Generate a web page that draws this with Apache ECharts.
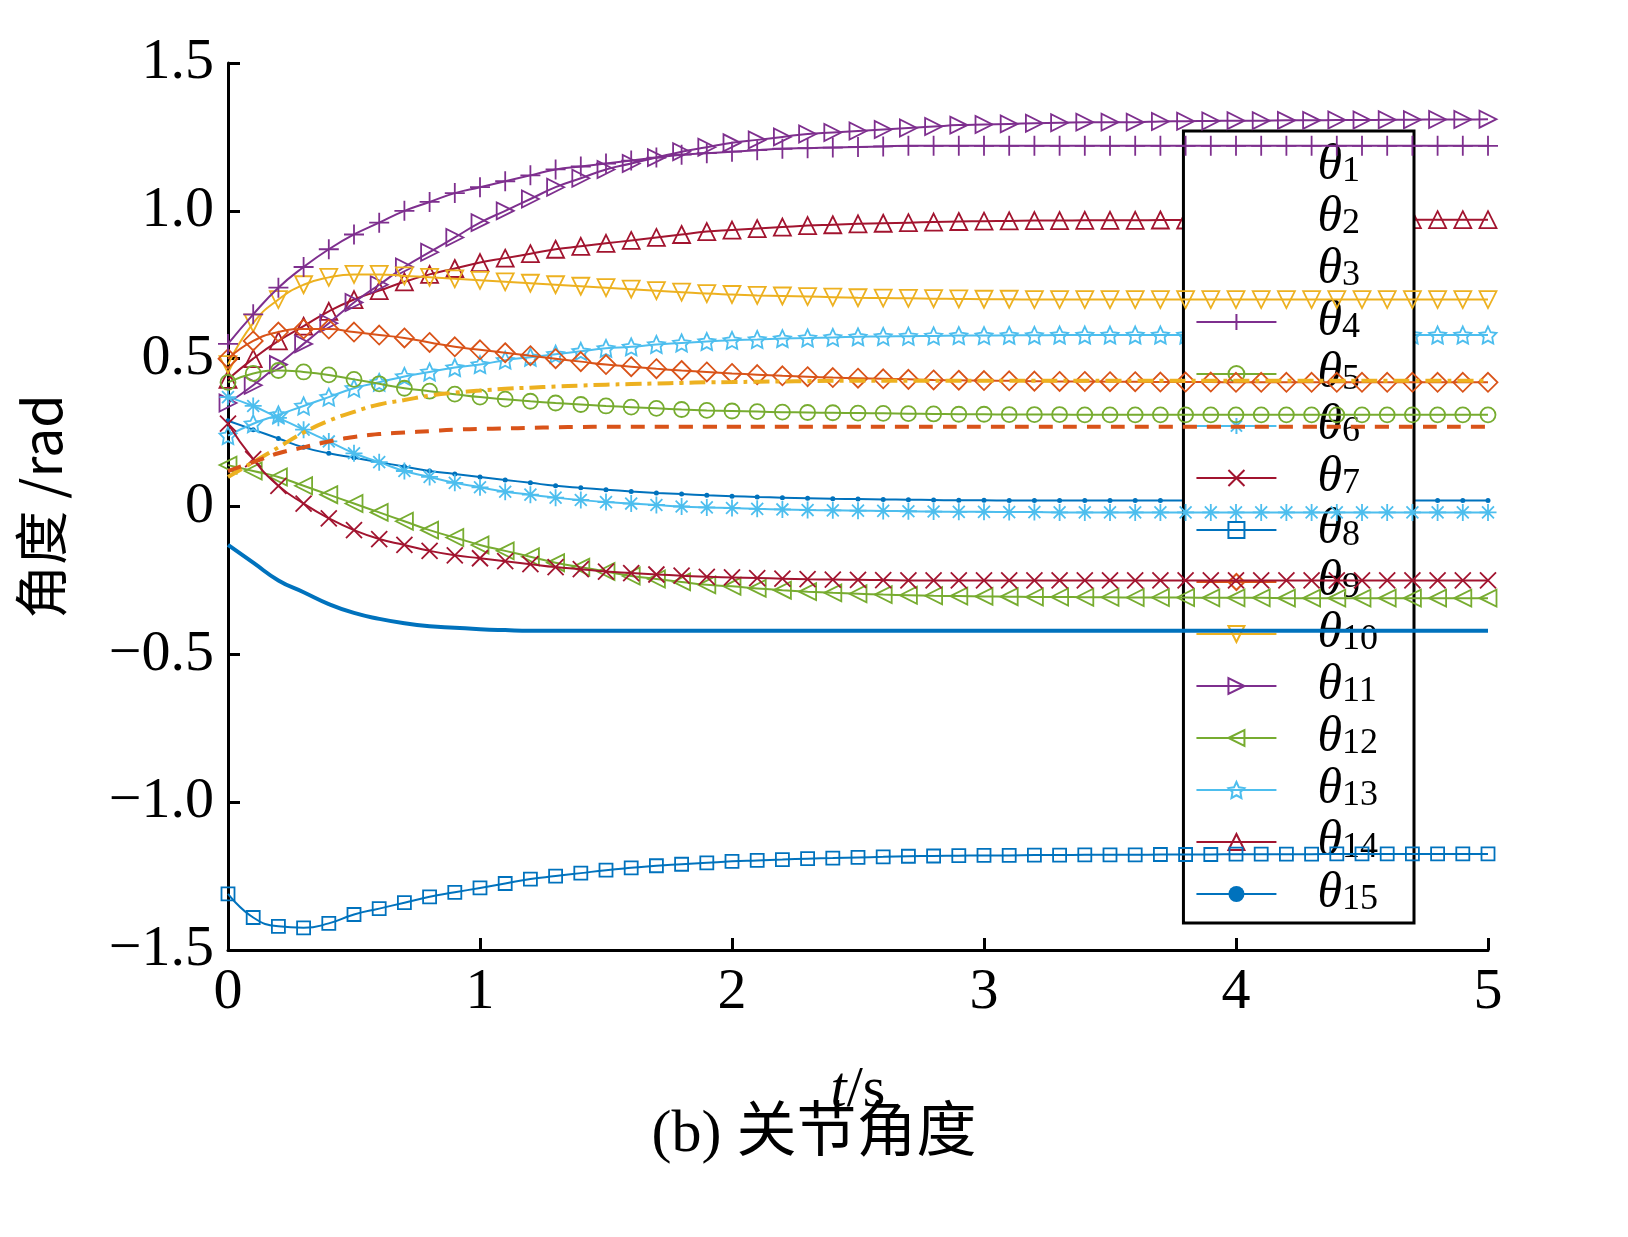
<!DOCTYPE html>
<html>
<head>
<meta charset="utf-8">
<script src="https://cdn.jsdelivr.net/npm/echarts@6/dist/echarts.min.js"></script>
<style>html,body{margin:0;background:#fff}#chart{width:1628px;height:1237px}</style>
</head>
<body>
<div id="chart"></div>
<script>
const times = [0,0.1,0.2,0.3,0.4,0.5,0.6,0.7,0.8,0.9,1,1.1,1.2,1.3,1.4,1.5,1.6,1.7,1.8,1.9,2,2.1,2.2,2.3,2.4,2.5,2.6,2.7,2.8,2.9,3,3.1,3.2,3.3,3.4,3.5,3.6,3.7,3.8,3.9,4,4.1,4.2,4.3,4.4,4.5,4.6,4.7,4.8,4.9,5];
const yTicks = [-1.5, -1.0, -0.5, 0, 0.5, 1.0, 1.5];

const theta1 = [-0.13,-0.19,-0.25,-0.29,-0.33,-0.36,-0.38,-0.395,-0.405,-0.41,-0.415,-0.418,-0.42,-0.42,-0.42,-0.42,-0.42,-0.42,-0.42,-0.42,-0.42,-0.42,-0.42,-0.42,-0.42,-0.42,-0.42,-0.42,-0.42,-0.42,-0.42,-0.42,-0.42,-0.42,-0.42,-0.42,-0.42,-0.42,-0.42,-0.42,-0.42,-0.42,-0.42,-0.42,-0.42,-0.42,-0.42,-0.42,-0.42,-0.42,-0.42];
const theta2 = [0.12,0.15,0.18,0.2,0.22,0.235,0.245,0.25,0.255,0.26,0.262,0.264,0.266,0.268,0.269,0.27,0.27,0.27,0.27,0.27,0.27,0.27,0.27,0.27,0.27,0.27,0.27,0.27,0.27,0.27,0.27,0.27,0.27,0.27,0.27,0.27,0.27,0.27,0.27,0.27,0.27,0.27,0.27,0.27,0.27,0.27,0.27,0.27,0.27,0.27,0.27];
const theta3 = [0.10,0.15,0.2,0.25,0.29,0.32,0.345,0.36,0.375,0.385,0.392,0.398,0.402,0.406,0.409,0.412,0.414,0.416,0.418,0.42,0.421,0.422,0.423,0.424,0.425,0.425,0.425,0.425,0.425,0.425,0.425,0.425,0.425,0.425,0.425,0.425,0.425,0.425,0.425,0.425,0.425,0.425,0.425,0.425,0.425,0.425,0.425,0.425,0.425,0.425,0.425];
const theta4 = [0.55,0.65,0.74,0.81,0.87,0.92,0.96,1.0,1.03,1.06,1.08,1.1,1.12,1.14,1.15,1.16,1.17,1.18,1.19,1.195,1.2,1.205,1.21,1.212,1.214,1.216,1.218,1.22,1.22,1.22,1.22,1.22,1.22,1.22,1.22,1.22,1.22,1.22,1.22,1.22,1.22,1.22,1.22,1.22,1.22,1.22,1.22,1.22,1.22,1.22,1.22];
const theta5 = [0.42,0.45,0.46,0.455,0.445,0.43,0.415,0.4,0.39,0.38,0.37,0.363,0.356,0.35,0.345,0.34,0.336,0.332,0.328,0.325,0.323,0.321,0.319,0.318,0.317,0.316,0.315,0.314,0.313,0.312,0.312,0.311,0.311,0.311,0.31,0.31,0.31,0.31,0.31,0.31,0.31,0.31,0.31,0.31,0.31,0.31,0.31,0.31,0.31,0.31,0.31];
const theta6 = [0.37,0.34,0.3,0.26,0.22,0.18,0.15,0.12,0.1,0.08,0.065,0.05,0.04,0.03,0.022,0.015,0.01,0.005,0.0,-0.003,-0.005,-0.008,-0.01,-0.012,-0.013,-0.014,-0.015,-0.016,-0.017,-0.018,-0.018,-0.019,-0.019,-0.02,-0.02,-0.02,-0.02,-0.02,-0.02,-0.02,-0.02,-0.02,-0.02,-0.02,-0.02,-0.02,-0.02,-0.02,-0.02,-0.02,-0.02];
const theta7 = [0.28,0.16,0.07,0.01,-0.04,-0.08,-0.11,-0.13,-0.15,-0.165,-0.175,-0.185,-0.195,-0.205,-0.212,-0.22,-0.225,-0.23,-0.234,-0.238,-0.24,-0.242,-0.244,-0.246,-0.247,-0.248,-0.249,-0.25,-0.25,-0.25,-0.25,-0.25,-0.25,-0.25,-0.25,-0.25,-0.25,-0.25,-0.25,-0.25,-0.25,-0.25,-0.25,-0.25,-0.25,-0.25,-0.25,-0.25,-0.25,-0.25,-0.25];
const theta8 = [-1.31,-1.39,-1.42,-1.425,-1.41,-1.38,-1.36,-1.34,-1.32,-1.305,-1.29,-1.275,-1.26,-1.25,-1.24,-1.23,-1.222,-1.215,-1.21,-1.205,-1.2,-1.197,-1.194,-1.191,-1.189,-1.187,-1.185,-1.183,-1.182,-1.181,-1.18,-1.18,-1.179,-1.179,-1.178,-1.178,-1.178,-1.177,-1.177,-1.177,-1.176,-1.176,-1.176,-1.176,-1.175,-1.175,-1.175,-1.175,-1.175,-1.175,-1.175];
const theta9 = [0.5,0.56,0.59,0.6,0.6,0.59,0.58,0.57,0.555,0.54,0.53,0.52,0.51,0.5,0.49,0.48,0.473,0.466,0.46,0.455,0.45,0.446,0.442,0.439,0.436,0.434,0.432,0.43,0.428,0.427,0.426,0.425,0.424,0.423,0.423,0.422,0.422,0.421,0.421,0.421,0.42,0.42,0.42,0.42,0.42,0.42,0.42,0.42,0.42,0.42,0.42];
const theta10 = [0.48,0.62,0.7,0.75,0.775,0.785,0.785,0.78,0.775,0.77,0.765,0.76,0.755,0.75,0.745,0.74,0.735,0.73,0.725,0.72,0.717,0.714,0.712,0.71,0.708,0.706,0.705,0.704,0.703,0.702,0.701,0.701,0.7,0.7,0.7,0.7,0.7,0.7,0.7,0.7,0.7,0.7,0.7,0.7,0.7,0.7,0.7,0.7,0.7,0.7,0.7];
const theta11 = [0.35,0.41,0.48,0.55,0.62,0.69,0.75,0.81,0.86,0.91,0.96,1.0,1.04,1.08,1.11,1.14,1.16,1.18,1.2,1.215,1.23,1.24,1.25,1.26,1.265,1.27,1.275,1.28,1.285,1.29,1.292,1.294,1.296,1.298,1.3,1.3,1.3,1.302,1.303,1.304,1.305,1.305,1.306,1.306,1.307,1.307,1.308,1.308,1.309,1.309,1.31];
const theta12 = [0.14,0.12,0.1,0.07,0.04,0.01,-0.02,-0.05,-0.08,-0.105,-0.13,-0.15,-0.17,-0.19,-0.205,-0.22,-0.235,-0.245,-0.255,-0.265,-0.27,-0.277,-0.283,-0.288,-0.292,-0.295,-0.298,-0.3,-0.302,-0.303,-0.304,-0.305,-0.306,-0.306,-0.307,-0.307,-0.308,-0.308,-0.308,-0.309,-0.309,-0.309,-0.31,-0.31,-0.31,-0.31,-0.31,-0.31,-0.31,-0.31,-0.31];
const theta13 = [0.24,0.28,0.31,0.34,0.37,0.4,0.42,0.44,0.455,0.47,0.48,0.495,0.505,0.515,0.525,0.535,0.54,0.548,0.553,0.558,0.562,0.565,0.568,0.57,0.572,0.574,0.575,0.576,0.577,0.578,0.578,0.579,0.579,0.58,0.58,0.58,0.58,0.58,0.58,0.58,0.58,0.58,0.58,0.58,0.58,0.58,0.58,0.58,0.58,0.58,0.58];
const theta14 = [0.43,0.5,0.56,0.61,0.66,0.7,0.73,0.76,0.785,0.805,0.825,0.84,0.855,0.87,0.88,0.89,0.9,0.91,0.92,0.93,0.935,0.94,0.945,0.95,0.953,0.956,0.958,0.96,0.962,0.964,0.965,0.966,0.967,0.967,0.968,0.968,0.968,0.969,0.969,0.969,0.97,0.97,0.97,0.97,0.97,0.97,0.97,0.97,0.97,0.97,0.97];
const theta15 = [0.29,0.26,0.23,0.2,0.18,0.165,0.15,0.135,0.12,0.11,0.1,0.09,0.08,0.07,0.063,0.057,0.051,0.046,0.042,0.038,0.035,0.032,0.03,0.028,0.026,0.025,0.024,0.023,0.022,0.021,0.021,0.02,0.02,0.02,0.02,0.02,0.02,0.02,0.02,0.02,0.02,0.02,0.02,0.02,0.02,0.02,0.02,0.02,0.02,0.02,0.02];

const allSeries = [theta1,theta2,theta3,theta4,theta5,theta6,theta7,theta8,theta9,theta10,theta11,theta12,theta13,theta14,theta15];
const colors = ['#0072BD','#D95319','#EDB120','#7E2F8E','#77AC30','#4DBEEE','#A2142F','#0072BD','#D95319','#EDB120','#7E2F8E','#77AC30','#4DBEEE','#A2142F','#0072BD'];

const plus = 'path://M0,-10L0,10M-10,0L10,0';
const cross = 'path://M-10,-10L10,10M-10,10L10,-10';
const asterisk = 'path://M0,-10L0,10M-10,0L10,0M-7,-7L7,7M-7,7L7,-7';
const star = 'path://M0,-10L2.9,-4L9.5,-3.1L4.7,1.5L5.9,8.1L0,5L-5.9,8.1L-4.7,1.5L-9.5,-3.1L-2.9,-4Z';
// symbol, rotate, size
const marks = [
    ['none',0,0],['none',0,0],['none',0,0],
    [plus,0,20],['circle',0,15],[asterisk,0,17],[cross,0,16],['rect',0,13],
    ['diamond',0,19],['triangle',180,17],['triangle',-90,17],['triangle',90,17],
    [star,0,17],['triangle',0,17],['circle',0,5]
];

const series = allSeries.map((vals, i) => {
    const c = colors[i];
    const m = marks[i];
    const s = {
        name: 'θ' + (i + 1),
        type: 'line',
        smooth: true,
        data: times.map((t, k) => [t, vals[k]]),
        lineStyle: { color: c, width: i < 3 ? 4 : 2 },
        itemStyle: { color: c },
        symbol: m[0],
        symbolRotate: m[1],
        symbolSize: m[2],
        showSymbol: m[0] !== 'none',
        z: 15 - i
    };
    if (i === 1) s.lineStyle.type = [14, 10];
    if (i === 2) s.lineStyle.type = [16, 6, 4, 6];
    if (i >= 3 && i < 14) s.itemStyle = { color: 'rgba(255,255,255,0)', borderColor: c, borderWidth: 1.8 };
    return s;
});

const legendData = series.map((s, i) => i < 3
    ? { name: s.name, icon: 'circle', itemStyle: { color: 'rgba(0,0,0,0)', borderWidth: 0 } }
    : { name: s.name });

const chart = echarts.init(document.getElementById('chart'));
const serif = '"Liberation Serif", "Times New Roman", serif';
chart.setOption({
    animation: false,
    backgroundColor: '#fff',
    grid: { left: 228, right: 140, top: 63, bottom: 287 },
    xAxis: {
        type: 'value', min: 0, max: 5, interval: 1,
        axisLine: { onZero: false, lineStyle: { color: '#000', width: 3 } },
        axisTick: { inside: true, length: 12, lineStyle: { color: '#000', width: 3 } },
        axisLabel: { color: '#000', fontFamily: serif, fontSize: 58, margin: 14 },
        splitLine: { show: false },
        name: '{i|t}/s', nameLocation: 'middle', nameGap: 112,
        nameTextStyle: { color: '#000', fontFamily: serif, fontSize: 58, rich: { i: { fontStyle: 'italic', fontFamily: serif, fontSize: 58 } } }
    },
    yAxis: {
        type: 'value', min: -1.5, max: 1.5, interval: 0.5,
        axisLine: { onZero: false, lineStyle: { color: '#000', width: 3 } },
        axisTick: { inside: true, length: 12, lineStyle: { color: '#000', width: 3 } },
        axisLabel: {
            color: '#000', fontFamily: serif, fontSize: 58, margin: 14,
            formatter: v => {
                const t = yTicks.find(x => Math.abs(x - v) < 1e-9);
                if (t === 0) return '0';
                return (t < 0 ? '\u2212' : '') + Math.abs(t).toFixed(1);
            }
        },
        splitLine: { show: false },
        name: '角度 /rad', nameLocation: 'middle', nameGap: 160, nameRotate: 90,
        nameTextStyle: { color: '#000', fontFamily: '"Noto Sans CJK SC", ' + serif, fontSize: 54 }
    },
    legend: {
        orient: 'vertical', right: 214, top: 131,
        backgroundColor: '#fff', borderColor: '#000', borderWidth: 3,
        padding: [10, 36, 4, 12], itemGap: 2, itemWidth: 80, itemHeight: 20,
        data: legendData,
        formatter: name => '{t|θ}{s|' + name.slice(1) + '}',
        textStyle: {
            color: '#000', padding: [0, 0, 0, 36],
            rich: {
                t: { fontFamily: serif, fontStyle: 'italic', fontSize: 50, lineHeight: 48 },
                s: { fontFamily: serif, fontSize: 36, lineHeight: 26, verticalAlign: 'bottom' }
            }
        }
    },
    graphic: [{
        type: 'text', left: 'center', top: 1105,
        style: { text: '(b) 关节角度', fontSize: 60, fill: '#000', fontFamily: '"Liberation Serif", "Noto Sans CJK SC", serif' }
    }],
    series: series
});
</script>
</body>
</html>
